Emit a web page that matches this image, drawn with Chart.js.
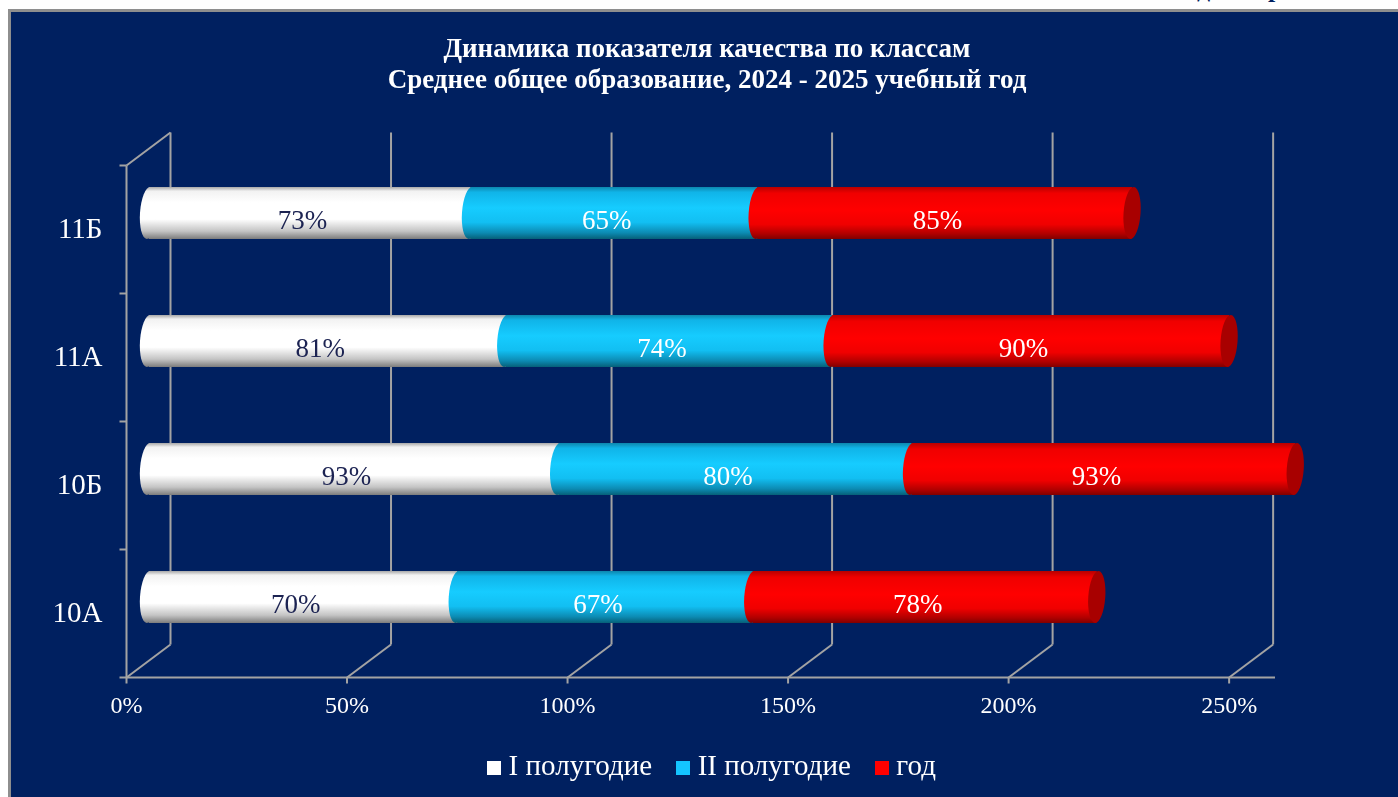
<!DOCTYPE html>
<html lang="ru">
<head>
<meta charset="utf-8">
<title>Динамика показателя качества</title>
<script src="https://cdn.jsdelivr.net/npm/chart.js@4"></script>
<style>
html,body{margin:0;height:100%;background:#fff;overflow:hidden}
#panel{position:absolute;left:8px;top:9px;right:-10px;bottom:-10px;border:3px solid #8e8e8e;background:#002060}
#cut{position:absolute;left:0;top:0;width:1398px;height:9px;overflow:hidden;font:bold 26px "Liberation Serif",serif;color:#002060}
#cut span{position:absolute;top:-26px}
canvas{position:absolute;left:0;top:0}
</style>
</head>
<body>
<div id="cut"><span style="left:1197px">д</span><span style="left:1268px">р</span></div>
<div id="panel"></div>
<canvas id="chart" width="1398" height="797"></canvas>
<script>
const titleLines=["Динамика показателя качества по классам","Среднее общее образование, 2024 - 2025 учебный год"];
const classes=["11Б","11А","10Б","10А"];
const seriesNames=["I полугодие","II полугодие","год"];
const halfYear1=[73,81,93,70];
const halfYear2=[65,74,80,67];
const wholeYear=[85,90,87,78];   // 10Б is drawn shorter than its printed 93%
const printed1=["73%","81%","93%","70%"];
const printed2=["65%","74%","80%","67%"];
const printed3=["85%","90%","93%","78%"];
const flat=["#ffffff","#14c4ff","#ff0000"];
const tube=[
  [[0,"#a8a8a8"],[.08,"#f2f2f2"],[.3,"#ffffff"],[.62,"#ffffff"],[.85,"#c4c4c4"],[1,"#7c7c7c"]],
  [[0,"#0d86ad"],[.1,"#10b4e8"],[.4,"#16ccff"],[.68,"#12bff2"],[.88,"#0c8bb3"],[1,"#066078"]],
  [[0,"#b80000"],[.12,"#f00000"],[.45,"#ff0000"],[.72,"#f00000"],[.9,"#b00000"],[1,"#800000"]]
];
const capColor="#a80000";
const SERIF='"Liberation Serif",serif';
const depthX=22, depthY=16.5, capRx=8.5, tilt=.07, axisEnd=260.4;

function tubeFill(chart,ds,i,h){
  const y=chart.scales.y.getPixelForValue(i);
  if(!Number.isFinite(y)) return flat[ds];
  const g=chart.ctx.createLinearGradient(0,y-h/2,0,y+h/2);
  tube[ds].forEach(s=>g.addColorStop(s[0],s[1]));
  return g;
}
function swatch(color){
  const c=document.createElement("canvas"); c.width=14; c.height=14;
  const x=c.getContext("2d"); x.fillStyle=color; x.fillRect(0,0,14,14);
  return c;
}
function line(ctx,x1,y1,x2,y2){ ctx.beginPath(); ctx.moveTo(x1,y1); ctx.lineTo(x2,y2); ctx.stroke(); }

const frame3d={
  id:"frame3d",
  afterLayout(chart){ chart.legend.left+=8; chart.legend.right+=8; },
  beforeDatasetsDraw(chart){
    const {ctx,chartArea:a,scales:{x}}=chart;
    const top=a.top, bot=a.bottom;
    ctx.save(); ctx.strokeStyle="#a3a3a3"; ctx.lineWidth=2;
    x.ticks.forEach(t=>{
      const p=x.getPixelForValue(t.value);
      line(ctx,p+depthX,top-depthY,p+depthX,bot-depthY);
      line(ctx,p+depthX,bot-depthY,p-depthX,bot+depthY);
      line(ctx,p-depthX,bot+depthY,p-depthX,bot+depthY+6);
    });
    const x0=x.getPixelForValue(0)-depthX;
    line(ctx,x0,top+depthY,x0+2*depthX,top-depthY);
    line(ctx,x0,top+depthY,x0,bot+depthY);
    line(ctx,x0-7,bot+depthY,x.getPixelForValue(axisEnd)-depthX,bot+depthY);
    const step=(bot-top)/classes.length;
    classes.forEach((c,i)=>line(ctx,x0-7,top+depthY+i*step,x0,top+depthY+i*step));
    ctx.restore();
  },
  afterDatasetsDraw(chart){
    const ctx=chart.ctx;
    ctx.save();
    // rounded starts go over the previous segment, so they are painted after all rects
    seriesNames.forEach((n,d)=>{
      chart.getDatasetMeta(d).data.forEach((el,i)=>{
        ctx.fillStyle=tubeFill(chart,d,i,el.height);
        ctx.beginPath(); ctx.ellipse(el.base,el.y,capRx,el.height/2,tilt,0,Math.PI*2); ctx.fill();
      });
    });
    ctx.fillStyle=capColor;
    chart.getDatasetMeta(2).data.forEach(el=>{ ctx.beginPath(); ctx.ellipse(el.x,el.y,capRx,el.height/2,tilt,0,Math.PI*2); ctx.fill(); });
    const texts=[printed1,printed2,printed3];
    ctx.font="27px "+SERIF; ctx.textAlign="center"; ctx.textBaseline="middle";
    texts.forEach((arr,d)=>{
      chart.getDatasetMeta(d).data.forEach((el,i)=>{
        ctx.fillStyle=d===0?"#1c2352":"#ffffff";
        ctx.fillText(arr[i],(el.base+el.x)/2-7,el.y+9);
      });
    });
    ctx.restore();
  }
};

const defaultLabels=Chart.defaults.plugins.legend.labels.generateLabels;
const fills=[halfYear1,halfYear2,wholeYear];
new Chart(document.getElementById("chart"),{
  type:"bar",
  plugins:[frame3d],
  data:{
    labels:classes,
    datasets:seriesNames.map((name,d)=>({
      label:name,
      data:fills[d],
      backgroundColor:c=>(c.dataIndex===undefined||!c.chart.scales.y)?flat[d]:tubeFill(c.chart,d,c.dataIndex,52),
      categoryPercentage:1,
      barPercentage:.406
    }))
  },
  options:{
    indexAxis:"y",responsive:false,animation:false,
    layout:{padding:{left:16,bottom:5}},
    scales:{
      x:{stacked:true,min:0,max:283.3,
        grid:{display:false},border:{display:false},
        afterFit:s=>{s.height=61},
        ticks:{stepSize:50,includeBounds:false,maxRotation:0,autoSkip:false,color:"#fff",font:{family:SERIF,size:24},padding:23,labelOffset:-depthX,callback:v=>v+"%"}},
      y:{stacked:true,
        grid:{display:false},border:{display:false},
        afterFit:s=>{s.width=132.5},
        ticks:{autoSkip:false,color:"#fff",font:{family:SERIF,size:29},padding:38,labelOffset:17}}
    },
    plugins:{
      tooltip:{enabled:false},
      title:{display:true,text:titleLines,color:"#fff",font:{family:SERIF,size:27,weight:"bold",lineHeight:1.148},padding:{top:35,bottom:52}},
      legend:{position:"bottom",
        labels:{color:"#fff",font:{family:SERIF,size:29},usePointStyle:true,boxWidth:.01,padding:31,
          generateLabels:c=>defaultLabels(c).map(it=>({...it,pointStyle:swatch(flat[it.datasetIndex])}))}}
    }
  }
});
</script>
</body>
</html>
